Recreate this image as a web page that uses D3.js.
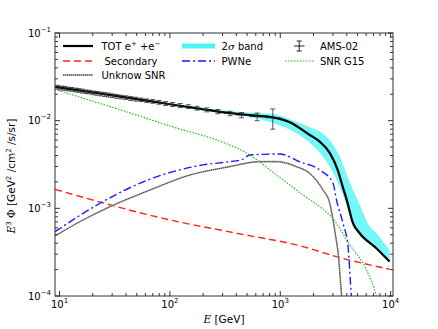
<!DOCTYPE html>
<html><head><meta charset="utf-8">
<script src="https://cdn.jsdelivr.net/npm/d3@7"></script>
<style>body{margin:0;background:#fff} text{font-family:"DejaVu Sans",sans-serif;fill:#000}</style>
</head><body><svg id="c" width="438" height="329"></svg>
<script>
// ---- data ----
const totE = [9.1,23.3,66,200,349,600,855,1219,1849,2277,2805,3311,3675,4000,4560,5240,7415,9780];
const totV = [0.0243,0.0204,0.0167,0.0135,0.0122,0.0114,0.0109,0.0096,0.00687,0.00577,0.00429,0.00274,0.00177,0.00125,0.000676,0.00052,0.000351,0.000247];

const bandE  = [9.1,50,200,500,855,1220,1730,2280,2800,3450,4250,5240,6460,7415,9780];
const bandHi = [0.0247,0.0180,0.0138,0.0124,0.0119,0.0104,0.0087,0.0075,0.0060,0.0039,0.0020,0.0011,0.00062,0.00052,0.00033];
const bandLo = [0.0239,0.0173,0.0130,0.0113,0.0094,0.0079,0.0060,0.0043,0.0030,0.00177,0.00088,0.00049,0.00040,0.00034,0.000240];

const secE = [9.1,100,402,1608,3228,9780];
const secV = [0.00165,0.000738,0.00052,0.000366,0.000281,0.000202];

const pwnE = [9.1,23.3,66,200,349,450,530,988,1500,2277,3006,3228,3700,4111,4406,4600];
const pwnV = [0.000542,0.001143,0.00215,0.00313,0.00341,0.0036,0.00406,0.00417,0.0034,0.00274,0.00193,0.00125,0.000676,0.000366,0.0001,0.00006];

const unkE = [9.1,16.4,28.6,66,152,349,652,925,1403,1849,2440,2805,3006,3228,3334,3507,3700];
const unkV = [0.000484,0.000738,0.001045,0.00162,0.0024,0.00299,0.00341,0.00341,0.00299,0.00251,0.00162,0.00115,0.00074,0.00042,0.00032,0.00015,0.00006];

const g15E = [9.1,15,23.3,40,66,120,265,530,925,1608,2708,3006,4254,6025,7415,7900];
const g15V = [0.0228,0.0187,0.0157,0.0127,0.0103,0.0081,0.00603,0.00406,0.0024,0.00142,0.00087,0.00076,0.000385,0.000199,0.0001,0.00007];

const amsE = [9.6,10.4,11.2,12.0,12.9,13.9,14.9,16.1,17.3,18.7,20.2,21.8,23.6,25.6,27.8,30.3,33.1,36.3,40.0,44.2,49.1,54.9,61.7,69.9,79.7,91.6,106,124,147,176,216,272,350,446,617,855];
const amsV = [0.0241,0.0236,0.0234,0.0230,0.0228,0.0224,0.0222,0.0218,0.0214,0.0212,0.0208,0.0205,0.0202,0.0199,0.0196,0.0193,0.0189,0.0186,0.0183,0.0179,0.0176,0.0173,0.0169,0.0166,0.0162,0.0157,0.0153,0.0149,0.0145,0.0139,0.0133,0.0127,0.0121,0.0116,0.0111,0.0108];
const amsErr = [0.0012,0.0012,0.0012,0.0011,0.0011,0.0011,0.0011,0.0011,0.0010,0.0010,0.0010,0.0010,0.0010,0.0010,0.0010,0.0009,0.0009,0.0009,0.0009,0.0009,0.0009,0.0008,0.0008,0.0008,0.0008,0.0008,0.0008,0.0008,0.0007,0.0007,0.0007,0.0007,0.0007,0.0008,0.0011,0.0028];

const xMajor = [10,100,1000,10000];
const xMajorExp = ["1","2","3","4"];
const yMajor = [1e-4,1e-3,1e-2,1e-1];
const yMajorExp = ["−4","−3","−2","−1"];

// ---- layout ----
const L=55, R=393, T=33, B=296;
const svg = d3.select("#c");
const x = d3.scaleLog().domain([9.1,10500]).range([L,R]);
const y = d3.scaleLog().domain([1e-4,1e-1]).range([B,T]);

svg.append("defs").append("clipPath").attr("id","clip")
  .append("rect").attr("x",L).attr("y",T).attr("width",R-L).attr("height",B-T);
const plot = svg.append("g").attr("clip-path","url(#clip)");

const zip = (E,V)=>E.map((e,i)=>[e,V[i]]);
const line = d3.line().x(d=>x(d[0])).y(d=>y(d[1])).curve(d3.curveMonotoneX);

// band
plot.append("path")
  .datum(bandE.map((e,i)=>({e,lo:bandLo[i],hi:bandHi[i]})))
  .attr("d", d3.area().x(d=>x(d.e)).y0(d=>y(d.lo)).y1(d=>y(d.hi)).curve(d3.curveMonotoneX))
  .attr("fill","#00f0f0").attr("fill-opacity",0.55);

// secondary
plot.append("path").datum(zip(secE,secV)).attr("d",line)
  .attr("fill","none").attr("stroke","#ff2020").attr("stroke-width",1.4).attr("stroke-dasharray","7,4");
// PWNe
plot.append("path").datum(zip(pwnE,pwnV)).attr("d",line)
  .attr("fill","none").attr("stroke","#1a1aff").attr("stroke-width",1.4).attr("stroke-dasharray","8,3,2,3");
// unknown SNR
plot.append("path").datum(zip(unkE,unkV)).attr("d",line)
  .attr("fill","none").attr("stroke","#a0a0a0").attr("stroke-width",1.6);
plot.append("path").datum(zip(unkE,unkV)).attr("d",line)
  .attr("fill","none").attr("stroke","#333").attr("stroke-width",1).attr("stroke-dasharray","1,1");
// SNR G15
plot.append("path").datum(zip(g15E,g15V)).attr("d",line)
  .attr("fill","none").attr("stroke","#22bb22").attr("stroke-width",1.2).attr("stroke-dasharray","1.5,1.5");
// TOT
plot.append("path").datum(zip(totE,totV)).attr("d",line)
  .attr("fill","none").attr("stroke","#000").attr("stroke-width",2.2);

// AMS-02 error bars
const ams = amsE.map((e,i)=>{
  const lo = i>0 ? Math.sqrt(amsE[i-1]*e) : e*e/Math.sqrt(e*amsE[i+1]);
  const hi = i<amsE.length-1 ? Math.sqrt(amsE[i+1]*e) : e*e/Math.sqrt(e*amsE[i-1]);
  return {e,v:amsV[i],err:amsErr[i],lo,hi};
});
const ag = plot.append("g").attr("stroke","#222").attr("stroke-opacity",0.75).attr("stroke-width",1);
ams.forEach(d=>{
  const cx=x(d.e), cy=y(d.v), y1=y(d.v+d.err), y2=y(d.v-d.err);
  ag.append("line").attr("x1",x(d.lo)).attr("x2",x(d.hi)).attr("y1",cy).attr("y2",cy);
  ag.append("line").attr("x1",cx).attr("x2",cx).attr("y1",y1).attr("y2",y2);
  ag.append("line").attr("x1",cx-2.5).attr("x2",cx+2.5).attr("y1",y1).attr("y2",y1);
  ag.append("line").attr("x1",cx-2.5).attr("x2",cx+2.5).attr("y1",y2).attr("y2",y2);
});

// ---- axes ----
const axc = "#333";
const ax = svg.append("g").attr("stroke",axc).attr("stroke-width",1);
ax.append("rect").attr("x",L).attr("y",T).attr("width",R-L).attr("height",B-T).attr("fill","none");
const xMinor = [], yMinor = [];
[10,100,1000].forEach(b=>{for(let k=2;k<=9;k++) xMinor.push(b*k);});
[1e-4,1e-3,1e-2].forEach(b=>{for(let k=2;k<=9;k++) yMinor.push(b*k);});
xMajor.forEach(v=>{const px=x(v);
  ax.append("line").attr("x1",px).attr("x2",px).attr("y1",B).attr("y2",B-5);
  ax.append("line").attr("x1",px).attr("x2",px).attr("y1",T).attr("y2",T+5);});
xMinor.filter(v=>x(v)<R).forEach(v=>{const px=x(v);
  ax.append("line").attr("x1",px).attr("x2",px).attr("y1",B).attr("y2",B-3);
  ax.append("line").attr("x1",px).attr("x2",px).attr("y1",T).attr("y2",T+3);});
yMajor.forEach(v=>{const py=y(v);
  ax.append("line").attr("x1",L).attr("x2",L+5).attr("y1",py).attr("y2",py);
  ax.append("line").attr("x1",R).attr("x2",R-5).attr("y1",py).attr("y2",py);});
yMinor.forEach(v=>{const py=y(v);
  ax.append("line").attr("x1",L).attr("x2",L+3).attr("y1",py).attr("y2",py);
  ax.append("line").attr("x1",R).attr("x2",R-3).attr("y1",py).attr("y2",py);});

xMajor.forEach((v,i)=>{
  const t=svg.append("text").attr("x",x(v)).attr("y",308).attr("text-anchor","middle").attr("font-size",10);
  t.append("tspan").text("10");
  t.append("tspan").attr("dy",-5).attr("font-size",7).text(xMajorExp[i]);
});
yMajor.forEach((v,i)=>{
  const t=svg.append("text").attr("x",51).attr("y",y(v)+3.5).attr("text-anchor","end").attr("font-size",10);
  t.append("tspan").text("10");
  t.append("tspan").attr("dy",-5).attr("font-size",7).text(yMajorExp[i]);
});

// axis titles
const xl = svg.append("text").attr("x",224).attr("y",323).attr("text-anchor","middle").attr("font-size",10.5);
xl.append("tspan").attr("font-family","DejaVu Serif").attr("font-style","italic").text("E");
xl.append("tspan").text(" [GeV]");

const yl = svg.append("text").attr("transform","translate(15,176) rotate(-90)").attr("text-anchor","middle").attr("font-size",10.5);
yl.append("tspan").attr("font-family","DejaVu Serif").attr("font-style","italic").text("E");
yl.append("tspan").attr("dy",-4).attr("font-size",7).text("3");
yl.append("tspan").attr("dy",4).attr("font-family","DejaVu Serif").text(" Φ");
yl.append("tspan").text(" [GeV");
yl.append("tspan").attr("dy",-4).attr("font-size",7).text("2");
yl.append("tspan").attr("dy",4).text(" /cm");
yl.append("tspan").attr("dy",-4).attr("font-size",7).text("2");
yl.append("tspan").attr("dy",4).text(" /s/sr]");

// ---- legend ----
const lg = svg.append("g");
const r1=46, r2=61, r3=75;
function ltext(xx,yy){return lg.append("text").attr("x",xx).attr("y",yy+3.6).attr("font-size",10);}
lg.append("line").attr("x1",63).attr("x2",93).attr("y1",r1).attr("y2",r1).attr("stroke","#000").attr("stroke-width",2.2);
{const t=ltext(101.5,r1); t.append("tspan").text("TOT e");
 t.append("tspan").attr("dy",-4).attr("font-size",7).text("+");
 t.append("tspan").attr("dy",4).text(" +e");
 t.append("tspan").attr("dy",-4).attr("font-size",7).text("−");}
lg.append("line").attr("x1",63).attr("x2",93).attr("y1",r2).attr("y2",r2).attr("stroke","#ff2020").attr("stroke-width",1.4).attr("stroke-dasharray","7,4");
ltext(104.5,r2).text("Secondary");
lg.append("line").attr("x1",63).attr("x2",93).attr("y1",r3).attr("y2",r3).attr("stroke","#a0a0a0").attr("stroke-width",1.6);
lg.append("line").attr("x1",63).attr("x2",93).attr("y1",r3).attr("y2",r3).attr("stroke","#333").attr("stroke-width",1).attr("stroke-dasharray","1,1");
ltext(101.5,r3).text("Unknow SNR");

lg.append("line").attr("x1",182).attr("x2",215).attr("y1",r1).attr("y2",r1).attr("stroke","#00f0f0").attr("stroke-opacity",0.7).attr("stroke-width",5);
{const t=ltext(221.5,r1); t.append("tspan").text("2");
 t.append("tspan").attr("font-family","DejaVu Serif").attr("font-style","italic").text("σ");
 t.append("tspan").text(" band");}
lg.append("line").attr("x1",182).attr("x2",215).attr("y1",r2).attr("y2",r2).attr("stroke","#1a1aff").attr("stroke-width",1.4).attr("stroke-dasharray","8,3,2,3");
ltext(221.5,r2).text("PWNe");

const eg = lg.append("g").attr("stroke","#222").attr("stroke-width",1);
eg.append("line").attr("x1",294).attr("x2",304.5).attr("y1",r1).attr("y2",r1);
eg.append("line").attr("x1",299.2).attr("x2",299.2).attr("y1",r1-5).attr("y2",r1+5);
eg.append("line").attr("x1",296.7).attr("x2",301.7).attr("y1",r1-5).attr("y2",r1-5);
eg.append("line").attr("x1",296.7).attr("x2",301.7).attr("y1",r1+5).attr("y2",r1+5);
ltext(320,r1).text("AMS-02");
lg.append("line").attr("x1",285).attr("x2",313.5).attr("y1",r2).attr("y2",r2).attr("stroke","#22bb22").attr("stroke-width",1.2).attr("stroke-dasharray","1.5,1.5");
ltext(320,r2).text("SNR G15");
</script></body></html>
